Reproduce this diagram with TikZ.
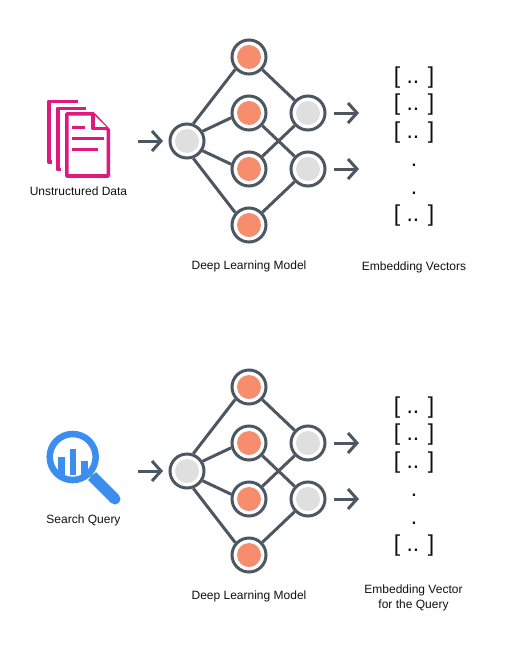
\documentclass[tikz,border=0pt]{standalone}
\usepackage{fontspec}
\setmainfont{Liberation Sans}
\usetikzlibrary{arrows.meta}
\definecolor{netgray}{HTML}{4D5762}
\definecolor{inner}{HTML}{DFDFDF}
\definecolor{salmon}{HTML}{F68D6C}
\definecolor{docpink}{HTML}{E0197D}
\definecolor{lensblue}{HTML}{3B8EEE}
\definecolor{labelcol}{HTML}{111111}
\tikzset{
  neuron/.style={circle,draw=netgray,fill=white,line width=3pt,minimum size=34pt,inner sep=0pt},
  grayneuron/.style={neuron,path picture={\fill[inner] (path picture bounding box.center) circle (12pt);}},
  hotneuron/.style={neuron,path picture={\fill[salmon] (path picture bounding box.center) circle (12pt);}},
  wire/.style={draw=netgray,line width=3pt},
  flow/.style={draw=netgray,line width=3pt,-{Straight Barb[length=9pt,width=20pt,line width=3pt]}},
  caption/.style={font=\fontsize{12}{15}\selectfont,text=labelcol,align=center,inner sep=0pt},
  vec/.style={font=\fontsize{23}{28}\selectfont,text=labelcol,anchor=base,inner sep=0pt},
  doc/.style={draw=docpink,line width=3.6pt,line join=round},
}
\begin{document}
\begin{tikzpicture}[x=1pt,y=-1pt]
\useasboundingbox (0,0) rectangle (510,656);
\fill[white] (0,0) rectangle (510,656);
\foreach \p/\d in {a/0,b/330}{
  \begin{scope}[shift={(0,\d)},name prefix=\p]
    \node[grayneuron] (in) at (187,141) {};
    \node[hotneuron] (h1) at (249,57) {};
    \node[hotneuron] (h2) at (249,113) {};
    \node[hotneuron] (h3) at (249,169) {};
    \node[hotneuron] (h4) at (249,225) {};
    \node[grayneuron] (o1) at (308,113) {};
    \node[grayneuron] (o2) at (308,169) {};
    \draw[wire] (in.70) -- (h1.222);
    \draw[wire] (in.32) -- (h2.195);
    \draw[wire] (in.-32) -- (h3.165);
    \draw[wire] (in.-70) -- (h4.138);
    \draw[wire] (h1) -- (o1);
    \draw[wire] (h2) -- (o2);
    \draw[wire] (h3) -- (o1);
    \draw[wire] (h4) -- (o2);
    \coordinate (s) at (138,141);
    \coordinate (e) at (163,141);
    \coordinate (s1) at (334,113);
    \coordinate (e1) at (359,113);
    \coordinate (s2) at (334,169);
    \coordinate (e2) at (359,169);
    \draw[flow] (s) -- (e);
    \draw[flow] (s1) -- (e1);
    \draw[flow] (s2) -- (e2);
    \node[vec] (v1) at (414,83) {[ .. ]};
    \node[vec] (v2) at (414,110.5) {[ .. ]};
    \node[vec] (v3) at (414,138) {[ .. ]};
    \node[vec] (v4) at (414,166) {.};
    \node[vec] (v5) at (414,194) {.};
    \node[vec] (v6) at (414,221) {[ .. ]};
    \node[caption] (m) at (249,266.7) {Deep Learning Model};
  \end{scope}
}
\node[caption] (cu) at (78.5,191) {Unstructured Data};
\node[caption] (ce) at (414,267.7) {Embedding Vectors};
\node[caption] (cs) at (83.5,520.7) {Search Query};
\node[caption] (cq) at (413.5,598) {Embedding Vector\\for the Query};
% documents
\draw[doc] (52,162) -- (48.8,162) -- (48.8,101.5) -- (78,101.5);
\draw[doc] (61,169.5) -- (57.8,169.5) -- (57.8,108.5) -- (86,108.5);
\draw[doc,fill=white] (66.8,113.8) -- (93,113.8) -- (108.3,130) -- (108.3,176) -- (66.8,176) -- cycle;
\draw[doc,fill=white] (93,114) -- (93,128.5) -- (108,128.5);
\draw[docpink,line width=3pt] (72,127.5) -- (85,127.5);
\draw[docpink,line width=3pt] (72,138.5) -- (104,138.5);
\draw[docpink,line width=3pt] (72,149.5) -- (98,149.5);
% magnifier
\begin{scope}
  \clip (72.7,457) circle (20);
  \fill[lensblue] (58,457) rectangle (64.5,490);
  \fill[lensblue] (69.5,449) rectangle (76,475);
  \fill[lensblue] (81,461) rectangle (87.7,490);
\end{scope}
\draw[lensblue,line width=6.5pt] (72.7,457) circle (23);
\draw[lensblue,line width=11pt] (92,476) -- (95,479);
\draw[lensblue,line width=11pt,line cap=round] (95,479) -- (115,499);
\end{tikzpicture}
\end{document}
